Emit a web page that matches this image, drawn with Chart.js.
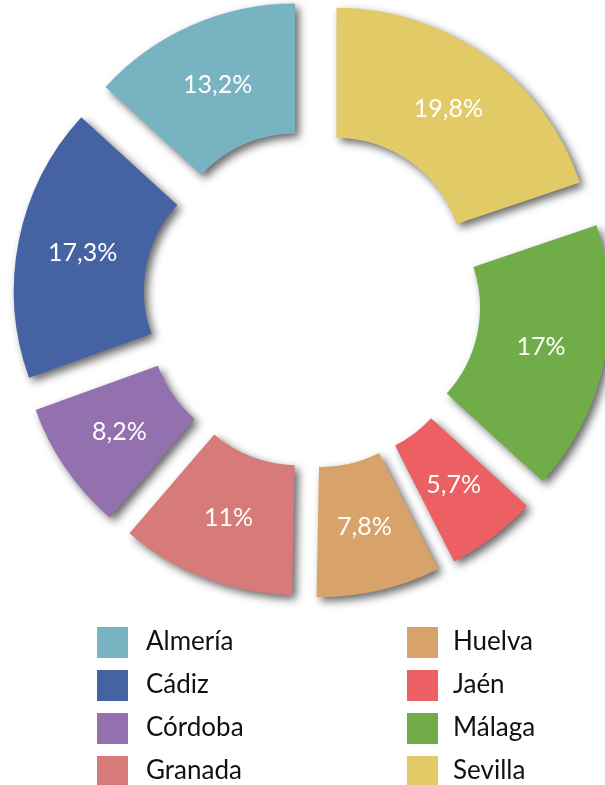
<!DOCTYPE html>
<html>
<head>
<meta charset="utf-8">
<script src="https://cdn.jsdelivr.net/npm/chart.js@4/dist/chart.umd.min.js"></script>
<style>
  html, body { margin: 0; padding: 0; background: #ffffff; }
  #wrap { width: 605px; height: 785px; position: relative; }
</style>
</head>
<body>
<div id="wrap"><canvas id="c" width="605" height="785"></canvas></div>
<script>
// ---- data (legend order) ----
const provinces = ['Almería', 'Cádiz', 'Córdoba', 'Granada', 'Huelva', 'Jaén', 'Málaga', 'Sevilla'];
const shares = [13.2, 17.3, 8.2, 11, 7.8, 5.7, 17, 19.8];
const shareLabels = ['13,2%', '17,3%', '8,2%', '11%', '7,8%', '5,7%', '17%', '19,8%'];
const colors = ['#78b3c2', '#4562a3', '#9370ae', '#d77a7a', '#d8a36b', '#ec6064', '#70ad48', '#e2cb66'];

// ---- style constants ----
const EXPLODE = 42;
const FONT = 'Lato, "Open Sans", sans-serif';

// slices drawn clockwise from the top: reverse of legend order
const order = provinces.map((_, i) => provinces.length - 1 - i);
const chartLabels = order.map(i => provinces[i]);
const chartValues = order.map(i => shares[i]);
const chartText = order.map(i => shareLabels[i]);
const chartColors = order.map(i => colors[i]);

// exploded arcs with drop shadow
const baseDraw = Chart.ArcElement.prototype.draw;
Chart.ArcElement.prototype.draw = function (ctx) {
  const mid = (this.startAngle + this.endAngle) / 2;
  ctx.save();
  ctx.translate(Math.cos(mid) * EXPLODE, Math.sin(mid) * EXPLODE);
  ctx.shadowColor = 'rgba(0,0,0,0.6)';
  ctx.shadowBlur = 8;
  ctx.shadowOffsetX = 4;
  ctx.shadowOffsetY = 4;
  baseDraw.call(this, ctx);
  ctx.restore();
};

const sliceLabels = {
  id: 'sliceLabels',
  afterDatasetsDraw(chart) {
    const ctx = chart.ctx;
    const meta = chart.getDatasetMeta(0);
    ctx.save();
    ctx.fillStyle = '#ffffff';
    ctx.font = '25px ' + FONT;
    ctx.textAlign = 'center';
    ctx.textBaseline = 'middle';
    meta.data.forEach((arc, i) => {
      const p = arc.getProps(['x', 'y', 'startAngle', 'endAngle', 'innerRadius', 'outerRadius'], true);
      const mid = (p.startAngle + p.endAngle) / 2;
      const rr = (p.innerRadius + p.outerRadius) / 2 + EXPLODE;
      ctx.fillText(chartText[i], p.x + Math.cos(mid) * rr, p.y + Math.sin(mid) * rr);
    });
    ctx.restore();
  }
};

const columnLegend = {
  id: 'columnLegend',
  afterDraw(chart) {
    const ctx = chart.ctx;
    const colX = [97, 407];
    const textX = [146, 453];
    const top0 = 627, step = 43, box = 31;
    const perCol = Math.ceil(provinces.length / 2);
    ctx.save();
    ctx.font = '26px ' + FONT;
    ctx.textAlign = 'left';
    ctx.textBaseline = 'alphabetic';
    provinces.forEach((name, i) => {
      const col = Math.floor(i / perCol);
      const row = i % perCol;
      const y = top0 + row * step;
      ctx.fillStyle = colors[i];
      ctx.fillRect(colX[col], y, box, box);
      ctx.fillStyle = '#111111';
      ctx.fillText(name, textX[col], y + 23);
    });
    ctx.restore();
  }
};

new Chart(document.getElementById('c'), {
  type: 'doughnut',
  data: {
    labels: chartLabels,
    datasets: [{
      data: chartValues,
      backgroundColor: chartColors,
      borderWidth: 0,
      clip: false
    }]
  },
  options: {
    responsive: false,
    animation: false,
    events: [],
    radius: 257,
    cutout: '49.4%',
    layout: { padding: { left: 19, right: 0, top: 0, bottom: 187 } },
    plugins: {
      legend: { display: false },
      tooltip: { enabled: false }
    }
  },
  plugins: [sliceLabels, columnLegend]
});
</script>
</body>
</html>
